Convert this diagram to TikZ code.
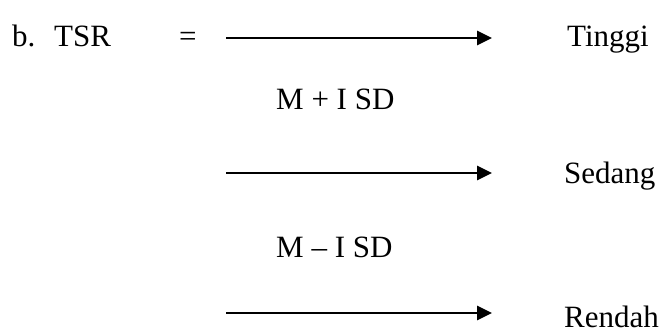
\documentclass[tikz,border=0pt]{standalone}
\usepackage{fontspec}
\setmainfont{Liberation Serif}
\usetikzlibrary{arrows.meta}
\begin{document}
\begin{tikzpicture}[x=1pt,y=-1pt,
  lbl/.style={anchor=base west,inner sep=0pt,font=\fontsize{31}{37}\selectfont},
  arr/.style={line width=2.6pt,-{Triangle[length=15pt,width=14pt]}}]
\useasboundingbox (0,0) rectangle (663,331);
\node[lbl] (b) at (12,47) {b.};
\node[lbl] (tsr) at (54,47) {TSR};
\node[lbl] (eq) at (179,47) {=};
\node[lbl] (tinggi) at (567,47) {Tinggi};
\node[lbl] (mplus) at (276,110) {M + I SD};
\node[lbl] (sedang) at (564,183) {Sedang};
\node[lbl] (mminus) at (276,257) {M – I SD};
\node[lbl] (rendah) at (564,327) {Rendah};
\coordinate (a1s) at (226,38); \coordinate (a1e) at (492,38);
\coordinate (a2s) at (226,173); \coordinate (a2e) at (492,173);
\coordinate (a3s) at (226,313); \coordinate (a3e) at (492,313);
\draw[arr] (a1s) -- (a1e);
\draw[arr] (a2s) -- (a2e);
\draw[arr] (a3s) -- (a3e);
\end{tikzpicture}
\end{document}
